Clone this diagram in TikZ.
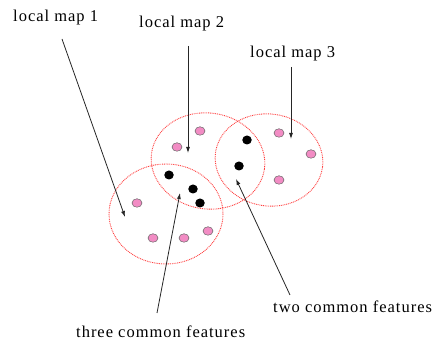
\documentclass[tikz,border=0pt]{standalone}
\usepackage{fontspec}
\setmainfont[LetterSpace=6]{Liberation Serif}
\usetikzlibrary{arrows.meta,shapes.geometric}
\definecolor{pinkdot}{HTML}{F28CC4}
\definecolor{mapred}{HTML}{FF4040}
\tikzset{
  lbl/.style={anchor=base west, inner sep=0pt, font=\fontsize{16.5}{18}\selectfont},
  mapell/.style={draw=mapred, line width=0.9pt, dash pattern=on 0.9pt off 0.9pt},
  pinkpt/.style={ellipse, draw=gray!80!black, line width=0.5pt, fill=pinkdot, minimum width=10pt, minimum height=8.5pt, inner sep=0pt},
  blackpt/.style={ellipse, fill=black, minimum width=9.5pt, minimum height=9pt, inner sep=0pt},
  arr/.style={-{Latex[length=6pt,width=4pt]}, line width=0.8pt, black!85}
}
\begin{document}
\begin{tikzpicture}[x=1pt,y=-1pt]
\useasboundingbox (0,0) rectangle (440,344);
% maps
\draw[mapell] (166,214) ellipse [x radius=57, y radius=50];
\draw[mapell, rotate around={-8:(208,161)}] (208,161) ellipse [x radius=57, y radius=48];
\draw[mapell, rotate around={-8:(269,160)}] (269,160) ellipse [x radius=54, y radius=46];
% pink features
\node[pinkpt] (p1) at (200,131) {};
\node[pinkpt] (p2) at (177,147) {};
\node[pinkpt] (p3) at (279,133) {};
\node[pinkpt] (p4) at (311,154) {};
\node[pinkpt] (p5) at (279,180) {};
\node[pinkpt] (p6) at (137,203) {};
\node[pinkpt] (p7) at (153,238) {};
\node[pinkpt] (p8) at (184,238) {};
\node[pinkpt] (p9) at (208,231) {};
% black common features
\node[blackpt] (b1) at (247,140) {};
\node[blackpt] (b2) at (239,166) {};
\node[blackpt] (b3) at (169,175) {};
\node[blackpt] (b4) at (193,189) {};
\node[blackpt] (b5) at (200,203) {};
% labels
\node[lbl] (l1) at (13,22) {local map 1};
\node[lbl] (l2) at (139,28) {local map 2};
\node[lbl] (l3) at (250,58) {local map 3};
\node[lbl] (l4) at (273,313) {two common features};
\node[lbl] (l5) at (76,338) {three common features};
% arrow endpoints
\coordinate (s1) at (62,39);
\coordinate (e1) at (125,217);
\coordinate (s2) at (188,46);
\coordinate (e2) at (188,153);
\coordinate (s3) at (291,67);
\coordinate (e3) at (291,139);
\coordinate (s4) at (290,295);
\coordinate (e4) at (236,179);
\coordinate (s5) at (157,313);
\coordinate (e5) at (180,193);
\draw[arr] (s1) -- (e1);
\draw[arr] (s2) -- (e2);
\draw[arr] (s3) -- (e3);
\draw[arr] (s4) -- (e4);
\draw[arr] (s5) -- (e5);
\end{tikzpicture}
\end{document}
